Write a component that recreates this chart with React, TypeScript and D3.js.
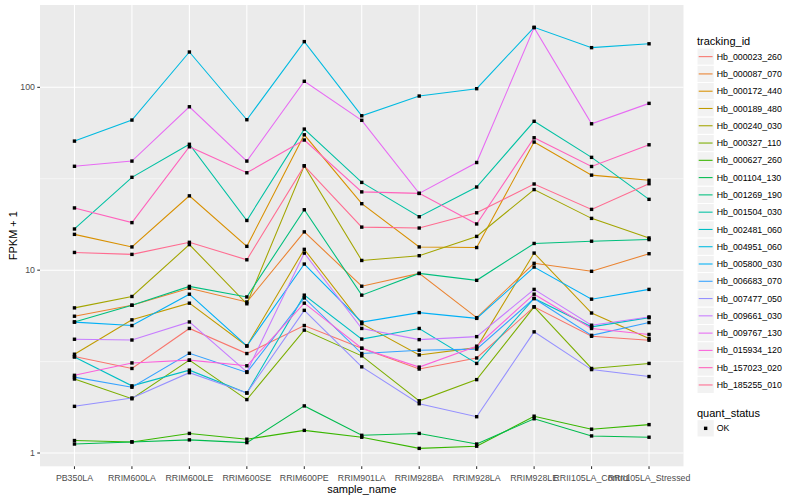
import React from "react";
import * as d3 from "d3";

const samples = [
  "PB350LA", "RRIM600LA", "RRIM600LE", "RRIM600SE", "RRIM600PE", "RRIM901LA",
  "RRIM928BA", "RRIM928LA", "RRIM928LE", "RRII105LA_Control", "RRII105LA_Stressed",
];

const trackingIds = [
  "Hb_000023_260", "Hb_000087_070", "Hb_000172_440", "Hb_000189_480", "Hb_000240_030",
  "Hb_000327_110", "Hb_000627_260", "Hb_001104_130", "Hb_001269_190", "Hb_001504_030",
  "Hb_002481_060", "Hb_004951_060", "Hb_005800_030", "Hb_006683_070", "Hb_007477_050",
  "Hb_009661_030", "Hb_009767_130", "Hb_015934_120", "Hb_157023_020", "Hb_185255_010",
];

const colors = [
  "#F8766D", "#EA8331", "#D89000", "#C09B00", "#A3A500", "#7CAE00", "#39B600", "#00BB4E",
  "#00BF7D", "#00C1A3", "#00BFC4", "#00BAE0", "#00B0F6", "#35A2FF", "#9590FF", "#C77CFF",
  "#E76BF3", "#FA62DB", "#FF62BC", "#FF6C91",
];

// FPKM + 1 values per tracking_id, one per sample
const hb000023_260 = [3.37, 2.9, 4.8, 3.5, 4.98, 3.74, 2.88, 3.31, 6.3, 4.35, 4.14];
const hb000087_070 = [5.6, 6.43, 7.97, 6.7, 16.2, 8.17, 9.6, 5.5, 10.9, 9.86, 12.3];
const hb000172_440 = [15.7, 13.4, 25.5, 13.5, 55, 23.1, 13.4, 13.3, 50.2, 33.1, 31];
const hb000189_480 = [3.47, 5.35, 6.6, 3.85, 13.0, 5.1, 3.44, 3.77, 12.4, 5.83, 4.23];
const hb000240_030 = [6.22, 7.18, 13.8, 6.55, 37.2, 11.3, 12.0, 15.3, 27.6, 19.2, 15.0];
const hb000327_110 = [2.54, 1.98, 3.22, 1.96, 4.7, 3.4, 1.93, 2.52, 6.3, 2.9, 3.09];
const hb000627_260 = [1.17, 1.15, 1.28, 1.19, 1.33, 1.22, 1.06, 1.09, 1.59, 1.35, 1.43];
const hb001104_130 = [1.12, 1.15, 1.18, 1.14, 1.81, 1.25, 1.28, 1.12, 1.54, 1.24, 1.22];
const hb001269_190 = [5.21, 6.43, 8.15, 7.14, 21.4, 7.3, 9.6, 8.8, 14.0, 14.4, 14.7];
const hb001504_030 = [16.8, 32.2, 48.8, 18.7, 59.1, 30.2, 19.6, 28.5, 65.2, 41.4, 24.4];
const hb002481_060 = [3.35, 2.33, 2.84, 2.13, 7.3, 4.2, 4.8, 3.09, 7.0, 4.9, 5.5];
const hb004951_060 = [50.8, 66.2, 156, 66.5, 177.8, 69.9, 89.6, 98.3, 213, 164.8, 173];
const hb005800_030 = [5.2, 4.98, 7.39, 3.85, 10.8, 5.2, 5.86, 5.45, 10.4, 6.94, 7.85];
const hb006683_070 = [2.6, 2.29, 3.51, 2.76, 7.05, 3.5, 3.65, 3.7, 7.0, 4.4, 5.17];
const hb007477_050 = [1.8, 2.0, 2.75, 2.13, 6.03, 2.96, 1.86, 1.58, 4.6, 2.86, 2.62];
const hb009661_030 = [4.19, 4.15, 5.21, 2.78, 12.4, 4.8, 4.17, 4.33, 7.85, 5.0, 5.55];
const hb009767_130 = [37, 39.5, 78.3, 39.5, 107.9, 66, 26.3, 38.8, 212, 63.2, 81.7];
const hb015934_120 = [2.66, 3.11, 3.22, 3.0, 6.6, 3.74, 2.95, 3.84, 7.39, 4.8, 4.45];
const hb157023_020 = [21.9, 18.2, 47.3, 34.1, 51.5, 26.8, 26.3, 17.9, 53, 36.9, 48.5];
const hb185255_010 = [12.5, 12.2, 14.2, 11.4, 37.2, 17.2, 17.0, 20.6, 29.6, 21.5, 29.7];

const seriesValues = [
  hb000023_260, hb000087_070, hb000172_440, hb000189_480, hb000240_030,
  hb000327_110, hb000627_260, hb001104_130, hb001269_190, hb001504_030,
  hb002481_060, hb004951_060, hb005800_030, hb006683_070, hb007477_050,
  hb009661_030, hb009767_130, hb015934_120, hb157023_020, hb185255_010,
];

const yMajorTicks = [1, 10, 100];
const yMinorTicks = [3.1623, 31.623];
const yTickLabels = ["1", "10", "100"];
const yDomain = [0.846, 282];

const W = 800;
const H = 500;
const panel = { left: 40, right: 683.5, top: 5, bottom: 466.3 };
const FONT = "'Liberation Sans', Arial, Helvetica, sans-serif";

export default function App() {
  const x = d3.scalePoint<string>().domain(samples).range([panel.left, panel.right]).padding(0.6);
  const y = d3.scaleLog().domain(yDomain).range([panel.bottom, panel.top]);
  const line = d3
    .line<number>()
    .x((_, i) => x(samples[i]) as number)
    .y((d) => y(d));

  const keyTop = 48;
  const keySize = 17.28;
  const legendX = 697;
  const ps = 3.4;

  return (
    <svg
      width={W}
      height={H}
      style={{ position: "absolute", left: 0, top: 0, background: "#fff" }}
      fontFamily={FONT}
    >
      <rect x={panel.left} y={panel.top} width={panel.right - panel.left} height={panel.bottom - panel.top} fill="#EBEBEB" />
      {yMinorTicks.map((t) => (
        <line key={"mn" + t} x1={panel.left} x2={panel.right} y1={y(t)} y2={y(t)} stroke="#fff" strokeWidth={0.55} />
      ))}
      {yMajorTicks.map((t) => (
        <line key={"mj" + t} x1={panel.left} x2={panel.right} y1={y(t)} y2={y(t)} stroke="#fff" strokeWidth={1.07} />
      ))}
      {samples.map((s) => (
        <line key={"gx" + s} x1={x(s)} x2={x(s)} y1={panel.top} y2={panel.bottom} stroke="#fff" strokeWidth={1.07} />
      ))}

      {seriesValues.map((vals, i) => (
        <path key={"l" + i} d={line(vals) || ""} fill="none" stroke={colors[i]} strokeWidth={1.07} />
      ))}
      {seriesValues.map((vals, i) =>
        vals.map((v, j) => (
          <rect
            key={"p" + i + "-" + j}
            x={(x(samples[j]) as number) - ps / 2}
            y={y(v) - ps / 2}
            width={ps}
            height={ps}
            fill="#000"
          />
        ))
      )}

      {/* y axis */}
      {yMajorTicks.map((t, i) => (
        <g key={"yt" + t}>
          <line x1={panel.left - 2.74} x2={panel.left} y1={y(t)} y2={y(t)} stroke="#333" strokeWidth={1.07} />
          <text x={panel.left - 5} y={y(t)} dy="0.35em" textAnchor="end" fontSize={8.8} fill="#4D4D4D">
            {yTickLabels[i]}
          </text>
        </g>
      ))}
      {/* x axis */}
      {samples.map((s) => (
        <g key={"xt" + s}>
          <line x1={x(s)} x2={x(s)} y1={panel.bottom} y2={panel.bottom + 2.74} stroke="#333" strokeWidth={1.07} />
          <text x={x(s)} y={panel.bottom + 15} textAnchor="middle" fontSize={8.8} fill="#4D4D4D">
            {s}
          </text>
        </g>
      ))}
      <text x={(panel.left + panel.right) / 2} y={493} textAnchor="middle" fontSize={11} fill="#000">
        sample_name
      </text>
      <text
        transform={`translate(16.5, ${(panel.top + panel.bottom) / 2}) rotate(-90)`}
        textAnchor="middle"
        fontSize={11}
        fill="#000"
      >
        FPKM + 1
      </text>

      {/* legend: tracking_id */}
      <text x={legendX} y={44.5} fontSize={11} fill="#000">
        tracking_id
      </text>
      {trackingIds.map((id, i) => {
        const ky = keyTop + i * keySize;
        return (
          <g key={"lg" + id}>
            <rect x={legendX} y={ky} width={keySize} height={keySize} fill="#F2F2F2" stroke="#fff" strokeWidth={1} />
            <line x1={legendX + 1.7} x2={legendX + keySize - 1.7} y1={ky + keySize / 2} y2={ky + keySize / 2} stroke={colors[i]} strokeWidth={1.07} />
            <text x={legendX + keySize + 2.5} y={ky + keySize / 2} dy="0.35em" fontSize={8.8} fill="#000">
              {id}
            </text>
          </g>
        );
      })}

      {/* legend: quant_status */}
      <text x={legendX} y={416.5} fontSize={11} fill="#000">
        quant_status
      </text>
      <rect x={legendX} y={419.7} width={keySize} height={keySize} fill="#F2F2F2" stroke="#fff" strokeWidth={1} />
      <rect x={legendX + keySize / 2 - ps / 2} y={419.7 + keySize / 2 - ps / 2} width={ps} height={ps} fill="#000" />
      <text x={legendX + keySize + 2.5} y={419.7 + keySize / 2} dy="0.35em" fontSize={8.8} fill="#000">
        OK
      </text>
    </svg>
  );
}
